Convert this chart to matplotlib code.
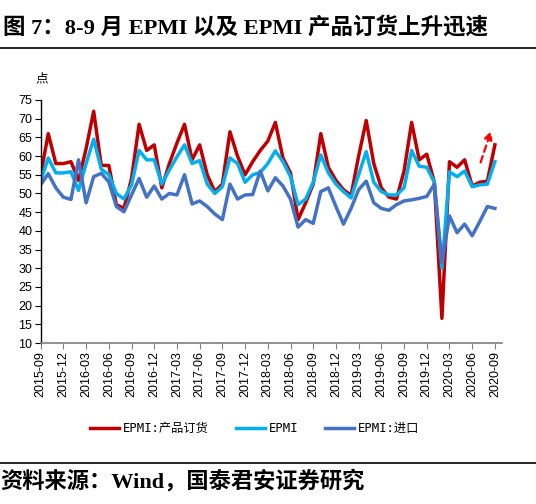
import matplotlib
matplotlib.use("Agg")
import matplotlib.pyplot as plt
import numpy as np

plt.rcParams["font.family"] = ["Liberation Sans", "Noto Sans CJK SC", "DejaVu Sans"]

RED = "#C00000"
CYAN = "#00B0F0"
BLUE = "#4472C4"

months = [f"{2015 + (8 + k) // 12}-{(8 + k) % 12 + 1:02d}" for k in range(61)]

epmi_orders = [
    55, 66, 58, 58, 58.5, 53.5, 62, 72, 57.5, 57.5,
    47, 46, 54, 68.5, 61.5, 63, 51.5, 58, 63.5, 68.5,
    59, 63, 55, 50.5, 52.5, 66.5, 60, 55, 58.5, 61.5,
    64, 69, 59.5, 55.5, 43, 47.5, 52.5, 66, 57, 53.5,
    51, 49.5, 60, 69.5, 58, 51.5, 49, 48.5, 56, 69,
    59, 60.5, 53, 16.6, 58.5, 57, 59, 52, 53, 53.3,
    63,
]
epmi = [
    53.3, 59.5, 55.5, 55.5, 55.8, 50.8, 58, 64.5, 56.5, 55,
    50, 48.5, 52.3, 61.5, 59, 59, 52.5, 56.3, 59.8, 63,
    58, 58.8, 52.5, 50, 51.8, 59.5, 58, 53, 55, 55.6,
    58, 61.4, 58.5, 54.5, 47, 48.5, 53, 60.3, 55.5, 52.5,
    50.5, 48.8, 55, 61.2, 53, 50.5, 49.6, 49.6, 51.5, 61.5,
    57.3, 57, 53, 30, 55.8, 54.5, 56, 51.8, 52.3, 52.5,
    58.5,
]
epmi_imports = [
    52.3, 55.3, 51.5, 49, 48.4, 59, 47.5, 54.5, 55.4, 53.1,
    46.5, 45.1, 49.6, 54, 49, 52, 48.5, 50, 49.6, 55,
    47.2, 48, 46.5, 44.5, 43, 52.5, 48.5, 49.6, 49.7, 56,
    50.7, 54.2, 52, 48.5, 41, 43, 42, 50.5, 51.5, 46.5,
    41.8, 46, 51, 53.3, 47.5, 46, 45.5, 47, 48, 48.3,
    48.7, 49.2, 52.5, 31.5, 44, 39.5, 41.8, 38.7, 42.5, 46.5,
    46,
]

x = np.arange(len(months))

fig = plt.figure(figsize=(5.36, 5.04), dpi=100)
ax = fig.add_axes([0.0759, 0.3194, 0.8607, 0.4822])

lw = 2.5
ax.plot(x, epmi_orders, color=RED, lw=lw, solid_joinstyle="round", label="EPMI:产品订货")
ax.plot(x, epmi, color=CYAN, lw=lw, solid_joinstyle="round", label="EPMI")
ax.plot(x, epmi_imports, color=BLUE, lw=lw, solid_joinstyle="round", label="EPMI:进口")

ax.set_xlim(0, 60.94)
ax.set_ylim(10, 75)
ax.set_yticks(np.arange(10, 76, 5))
ax.set_xticks(x[::3])
ax.set_xticklabels(months[::3], rotation=90, fontsize=9)
ax.tick_params(axis="y", labelsize=9, length=4, direction="out", pad=2)
ax.tick_params(axis="x", length=4, direction="out", pad=2, color="#808080")
ax.spines["top"].set_visible(False)
ax.spines["right"].set_visible(False)
ax.spines["bottom"].set_color("#808080")
ax.spines["bottom"].set_linewidth(1.2)
ax.spines["left"].set_linewidth(1.0)

ax.text(-0.012, 1.06, "点", transform=ax.transAxes, fontsize=9,
        family=["Noto Sans CJK SC"], ha="left", va="bottom")

# dashed arrow pointing up at the latest reading
ax.annotate("", xy=(59.6, 67.4), xytext=(58.0, 57.6),
            arrowprops=dict(arrowstyle="-|>", color="#FF0000", lw=1.6,
                            linestyle=(0, (3, 2)), mutation_scale=12))

fig.legend(loc="center", bbox_to_anchor=(0.475, 0.149), ncol=3, frameon=False,
           handlelength=2.4, columnspacing=2.2, handletextpad=0.3,
           prop={"family": ["DejaVu Sans Mono", "Noto Sans CJK SC"], "size": 8.8})

title_font = ["Liberation Serif", "Noto Sans CJK SC"]
fig.text(0.005, 0.945, "图 7：8-9 月 EPMI 以及 EPMI 产品订货上升迅速", fontsize=16.2,
         weight="bold", family=title_font, ha="left", va="center")
fig.add_artist(plt.Line2D([0, 1], [0.905, 0.905], color="black", lw=1.2))
fig.add_artist(plt.Line2D([0, 1], [0.081, 0.081], color="black", lw=1.2))
fig.text(0.0, 0.046, "资料来源：Wind，国泰君安证券研究", fontsize=16,
         weight="bold", family=title_font, ha="left", va="center")

fig.savefig("out.png", dpi=100, facecolor="white")
